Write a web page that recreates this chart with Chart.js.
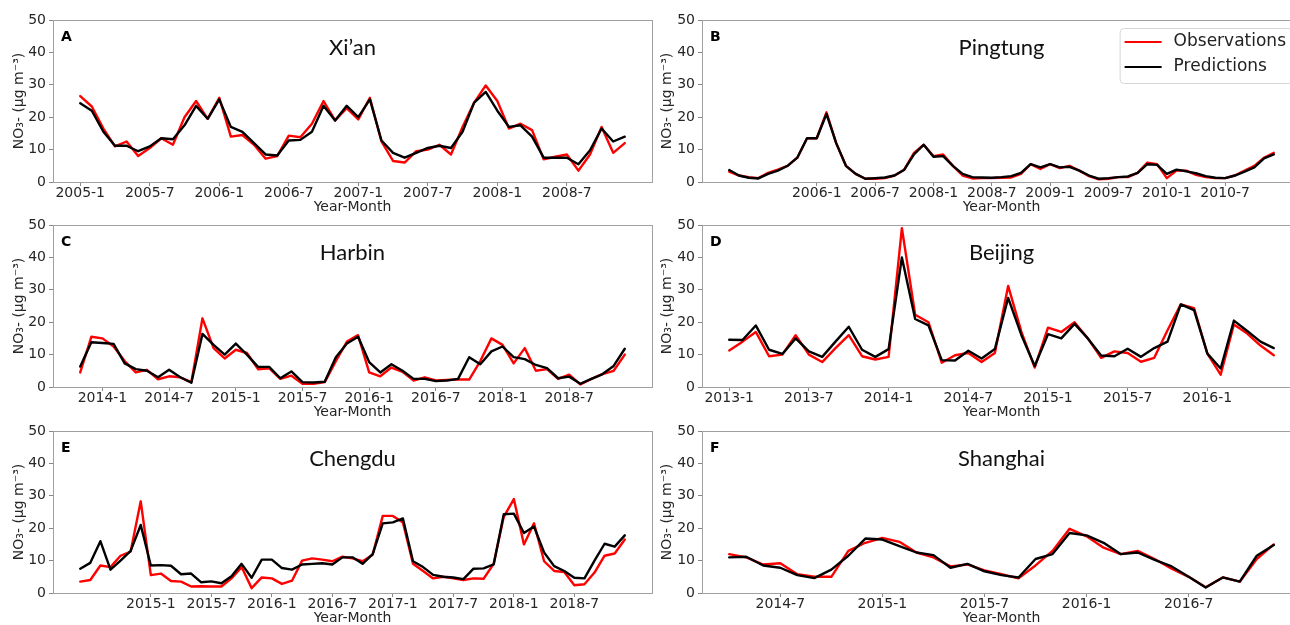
<!DOCTYPE html>
<html>
<head>
<meta charset="utf-8">
<script src="https://cdn.jsdelivr.net/npm/chart.js@4.4.1/dist/chart.umd.min.js"></script>
<style>
  body { margin: 0; background: #fff; overflow: hidden; width: 1290px; height: 625px; position: relative; }
  canvas { position: absolute; }
</style>
</head>
<body>
<canvas id="xian"></canvas>
<canvas id="pingtung"></canvas>
<canvas id="harbin"></canvas>
<canvas id="beijing"></canvas>
<canvas id="chengdu"></canvas>
<canvas id="shanghai"></canvas>
<script>
// month ranges per site (gaps are years without samples)
const xianPeriods = [['2005-1', '2008-12']];
const pingtungPeriods = [['2005-4', '2006-12'], ['2008-1', '2010-12']];
const harbinPeriods = [['2013-11', '2016-12'], ['2018-1', '2018-12']];
const beijingPeriods = [['2013-1', '2016-6']];
const chengduPeriods = [['2014-6', '2018-12']];
const shanghaiPeriods = [['2014-4', '2016-12']];

// tick labels shown under each panel
const xianTicks = ['2005-1', '2005-7', '2006-1', '2006-7', '2007-1', '2007-7', '2008-1', '2008-7'];
const pingtungTicks = ['2006-1', '2006-7', '2008-1', '2008-7', '2009-1', '2009-7', '2010-1', '2010-7'];
const harbinTicks = ['2014-1', '2014-7', '2015-1', '2015-7', '2016-1', '2016-7', '2018-1', '2018-7'];
const beijingTicks = ['2013-1', '2013-7', '2014-1', '2014-7', '2015-1', '2015-7', '2016-1'];
const chengduTicks = ['2015-1', '2015-7', '2016-1', '2016-7', '2017-1', '2017-7', '2018-1', '2018-7'];
const shanghaiTicks = ['2014-7', '2015-1', '2015-7', '2016-1', '2016-7'];

// NO3- observations and predictions
const xianObs = [26.5, 23.3, 16.5, 11, 12.5, 8, 10.5, 13.5, 11.5, 20, 25, 19.5, 26, 14, 14.5, 11.5, 7.2, 8, 14.3, 13.8, 18, 25, 19, 22.8, 19.3, 26, 12.5, 6.5, 6, 9.5, 10, 11.5, 8.5, 17, 24.5, 29.8, 25, 16.5, 18, 16, 7, 7.8, 8.5, 3.5, 8.5, 17, 9, 12];
const xianPred = [24.3, 22, 15.5, 11.2, 11.2, 9.5, 11, 13.5, 13.2, 17.5, 23.5, 19.5, 25.5, 17, 15.5, 12, 8.5, 8.2, 12.8, 13, 15.5, 23.5, 19, 23.5, 20, 25.5, 12.8, 9, 7.5, 9, 10.5, 11.2, 10.5, 15.5, 24.5, 27.8, 22, 17, 17.5, 14, 7.5, 7.5, 7.5, 5.5, 9.8, 16.5, 12.5, 14];

const pingtungObs = [3.2, 2, 1.5, 1.2, 2.8, 3.8, 5, 7.5, 13.5, 13.5, 21.5, 12, 5, 2.5, 1, 1, 1.2, 2, 3.8, 9, 11.5, 8, 8.5, 5, 2, 1.1, 1.2, 1.2, 1.3, 1.4, 2.5, 5.5, 4, 5.5, 4.3, 5, 3.5, 1.8, 0.8, 1, 1.5, 1.5, 2.8, 6, 5.5, 1.2, 3.5, 3.5, 2.2, 1.5, 1.2, 1.2, 2, 3.5, 5, 7.5, 9];
const pingtungPred = [3.7, 2, 1.3, 1.1, 2.5, 3.5, 5, 7.5, 13.5, 13.5, 21, 12, 5, 2.5, 1, 1.2, 1.4, 2, 3.8, 8.5, 11.5, 7.8, 8, 5, 2.5, 1.5, 1.4, 1.3, 1.5, 1.8, 2.8, 5.5, 4.5, 5.5, 4.5, 4.7, 3.5, 2, 1, 1.2, 1.5, 1.7, 2.8, 5.5, 5.3, 2.5, 3.8, 3.3, 2.7, 1.8, 1.3, 1.2, 2, 3.2, 4.5, 7.3, 8.5];

const harbinObs = [4.5, 15.5, 15, 12.5, 8, 4.5, 5.3, 2.4, 3.3, 3, 1.5, 21.2, 12, 8.8, 11.5, 10.5, 5.5, 5.8, 2.5, 3.5, 1, 1, 1.5, 8, 14, 16, 4.5, 3.3, 6, 4.7, 2, 3, 2, 2.2, 2.3, 2.3, 8, 15, 13, 7.3, 12, 5, 5.5, 2.5, 3.8, 0.8, 2.5, 4, 5, 10];
const harbinPred = [6.3, 13.8, 13.6, 13.3, 7.3, 5.5, 5, 3, 5.3, 3, 1.3, 16.4, 13, 10, 13.4, 10, 6.2, 6.2, 2.7, 4.8, 1.5, 1.4, 1.6, 9.2, 13.4, 15.5, 7.7, 4.5, 7, 5, 2.5, 2.5, 1.8, 2, 2.5, 9.2, 7, 11, 12.5, 9.2, 8.6, 6.8, 5.8, 2.7, 3.2, 1, 2.5, 4, 6.5, 11.8];

const beijingObs = [11.3, 14, 17, 9.5, 10, 16, 10, 7.7, 12, 16, 9.5, 8.5, 9.3, 49, 22.3, 20, 7.5, 9.8, 10.5, 7.7, 10.5, 31.2, 17, 6, 18.3, 17, 20, 15, 9, 11, 10.5, 7.8, 9, 17.5, 25.5, 24.3, 10.3, 3.8, 19.3, 16.5, 12.8, 9.8];
const beijingPred = [14.6, 14.5, 19, 11.5, 10.2, 15, 11, 9.3, 14, 18.6, 11.5, 9.3, 11.7, 40, 21, 19, 8.3, 8.2, 11.2, 8.8, 11.7, 27.5, 16, 6.5, 16.3, 15, 19.5, 15, 9.7, 9.5, 11.8, 9.3, 12, 14, 25.5, 23.7, 10.3, 5.7, 20.5, 17.3, 14, 12];

const chengduObs = [3.5, 4, 8.5, 8, 11.5, 12.8, 28.3, 5.5, 6, 3.7, 3.5, 2, 2.1, 2, 2, 4.5, 8, 1.5, 4.8, 4.5, 2.8, 3.8, 10, 10.7, 10.3, 9.8, 11.2, 10.7, 9.8, 11.8, 23.8, 23.8, 21.8, 9, 6.8, 4.5, 5, 4.5, 4, 4.5, 4.4, 9, 23.5, 29, 15, 21.5, 9.8, 6.8, 6.5, 2.4, 2.7, 6.3, 11.5, 12.2, 16.5];
const chengduPred = [7.5, 9.3, 16, 7.2, 10, 13, 21, 8.5, 8.6, 8.4, 5.8, 6, 3.3, 3.6, 3, 5.2, 9, 4.7, 10.3, 10.3, 7.7, 7.2, 8.8, 9, 9.2, 8.8, 11, 11, 9, 12, 21.5, 21.8, 23, 9.8, 8, 5.6, 5, 4.8, 4.3, 7.5, 7.6, 8.8, 24.3, 24.5, 18.5, 20.5, 12.5, 8.3, 6.8, 4.7, 4.5, 10, 15.2, 14.3, 17.8];

const shanghaiObs = [12, 11, 8.8, 9.2, 5.8, 5, 5, 13, 15.5, 17, 15.8, 12.5, 11, 8.2, 8.8, 7, 5.8, 4.5, 8.5, 13, 19.8, 17.5, 14, 12, 13, 10.5, 7.5, 5, 1.8, 4.8, 3.5, 10.5, 15];
const shanghaiPred = [11, 11.2, 8.5, 7.8, 5.5, 4.6, 7.2, 11.5, 16.8, 16.5, 14.5, 12.5, 11.7, 7.8, 9, 6.7, 5.5, 4.8, 10.5, 12, 18.5, 17.8, 15.5, 12, 12.5, 10.2, 8.2, 5, 1.7, 4.8, 3.5, 11.5, 14.8];

const seriesNames = ['Observations', 'Predictions'];
const seriesColors = ['#ff0000', '#000000'];

const panels = [
  { id: 'xian', letter: 'A', city: 'Xi’an', periods: xianPeriods, ticks: xianTicks, obs: xianObs, pred: xianPred, col: 0, row: 0 },
  { id: 'pingtung', letter: 'B', city: 'Pingtung', periods: pingtungPeriods, ticks: pingtungTicks, obs: pingtungObs, pred: pingtungPred, col: 1, row: 0, legend: true },
  { id: 'harbin', letter: 'C', city: 'Harbin', periods: harbinPeriods, ticks: harbinTicks, obs: harbinObs, pred: harbinPred, col: 0, row: 1 },
  { id: 'beijing', letter: 'D', city: 'Beijing', periods: beijingPeriods, ticks: beijingTicks, obs: beijingObs, pred: beijingPred, col: 1, row: 1 },
  { id: 'chengdu', letter: 'E', city: 'Chengdu', periods: chengduPeriods, ticks: chengduTicks, obs: chengduObs, pred: chengduPred, col: 0, row: 2 },
  { id: 'shanghai', letter: 'F', city: 'Shanghai', periods: shanghaiPeriods, ticks: shanghaiTicks, obs: shanghaiObs, pred: shanghaiPred, col: 1, row: 2 }
];

Chart.defaults.font.family = '"DejaVu Sans", sans-serif';
Chart.defaults.color = '#262626';

function monthRange(from, to) {
  let [y, m] = from.split('-').map(Number);
  const [y2, m2] = to.split('-').map(Number);
  const out = [];
  while (y < y2 || (y === y2 && m <= m2)) {
    out.push(y + '-' + m);
    m++;
    if (m > 12) { m = 1; y++; }
  }
  return out;
}

function decoPlugin(p) {
  return {
    id: 'deco',
    afterDraw(chart) {
      const ca = chart.chartArea;
      const ctx = chart.ctx;
      ctx.save();
      // frame
      ctx.strokeStyle = '#a0a0a0';
      ctx.lineWidth = 1;
      ctx.strokeRect(Math.round(ca.left) + 0.5, Math.round(ca.top) + 0.5, Math.round(ca.right - ca.left), Math.round(ca.bottom - ca.top));
      // panel letter
      ctx.fillStyle = '#000';
      ctx.textBaseline = 'alphabetic';
      ctx.textAlign = 'left';
      ctx.font = 'bold 14px "DejaVu Sans"';
      ctx.fillText(p.letter, ca.left + 8, ca.top + 21);
      // city name
      ctx.fillStyle = '#111';
      ctx.textAlign = 'center';
      ctx.font = '22px Lato';
      ctx.fillText(p.city, (ca.left + ca.right) / 2, ca.top + 35);
      // legend
      if (p.legend) {
        ctx.font = '17px "DejaVu Sans"';
        const tw = Math.max(...seriesNames.map(s => ctx.measureText(s).width));
        const bw = 54 + tw + 9, bh = 55;
        const bx = ca.right - 6 - bw, by = ca.top + 8;
        ctx.beginPath();
        ctx.roundRect(bx + 0.5, by + 0.5, bw, bh, 4);
        ctx.fillStyle = 'rgba(255,255,255,0.8)';
        ctx.fill();
        ctx.strokeStyle = '#d6d6d6';
        ctx.stroke();
        ctx.textAlign = 'left';
        ctx.textBaseline = 'middle';
        seriesNames.forEach((name, i) => {
          const ly = by + 14 + i * 25;
          ctx.strokeStyle = seriesColors[i];
          ctx.lineWidth = 2.2;
          ctx.beginPath();
          ctx.moveTo(bx + 5, ly);
          ctx.lineTo(bx + 42, ly);
          ctx.stroke();
          ctx.fillStyle = '#222';
          ctx.fillText(name, bx + 54, ly);
        });
      }
      ctx.restore();
    }
  };
}

function makeChart(p) {
  const canvas = document.getElementById(p.id);
  const left = p.col === 0 ? 0 : 648;
  const width = p.col === 0 ? 656 : 662;
  const top = [0, 205, 411][p.row];
  canvas.width = width;
  canvas.height = 216;
  canvas.style.left = left + 'px';
  canvas.style.top = top + 'px';
  canvas.style.width = width + 'px';
  canvas.style.height = '216px';

  const labels = p.periods.flatMap(r => monthRange(r[0], r[1]));
  const tickIdx = p.ticks.map(t => labels.indexOf(t));
  const n = labels.length - 1;
  const yWidth = p.col === 0 ? 53 : 54;

  new Chart(canvas, {
    type: 'line',
    data: {
      datasets: [
        { label: seriesNames[0], data: p.obs.map((v, i) => ({ x: i, y: v })), borderColor: seriesColors[0], order: 2 },
        { label: seriesNames[1], data: p.pred.map((v, i) => ({ x: i, y: v })), borderColor: seriesColors[1], order: 1 }
      ]
    },
    options: {
      responsive: false,
      animation: false,
      devicePixelRatio: 1,
      layout: { padding: { top: 20, right: p.col === 0 ? 4 : 9, bottom: 0, left: 0 } },
      elements: {
        point: { radius: 0 },
        line: { borderWidth: 2.4, tension: 0, borderJoinStyle: 'round', borderCapStyle: 'round' }
      },
      plugins: { legend: { display: false }, tooltip: { enabled: false } },
      scales: {
        x: {
          type: 'linear',
          bounds: 'data',
          min: -0.05 * n,
          max: 1.05 * n,
          afterBuildTicks: s => { s.ticks = tickIdx.map(v => ({ value: v })); },
          afterFit: s => { s.height = 34; },
          ticks: { autoSkip: false, maxRotation: 0, padding: -1, font: { size: 14 }, callback: v => labels[v] },
          grid: { drawOnChartArea: false, tickLength: 4, color: '#888' },
          border: { display: false },
          title: { display: true, text: 'Year-Month', font: { size: 14 }, padding: { top: 0, bottom: 0 } }
        },
        y: {
          min: 0,
          max: 50,
          afterFit: s => { s.width = yWidth; },
          ticks: { stepSize: 10, padding: 3, font: { size: 14 } },
          grid: { drawOnChartArea: false, tickLength: 4, color: '#888' },
          border: { display: false },
          title: { display: true, text: 'NO₃- (μg m⁻³)', font: { size: 14 }, padding: { top: 11, bottom: 0 } }
        }
      }
    },
    plugins: [decoPlugin(p)]
  });
}

panels.forEach(makeChart);
</script>
</body>
</html>
